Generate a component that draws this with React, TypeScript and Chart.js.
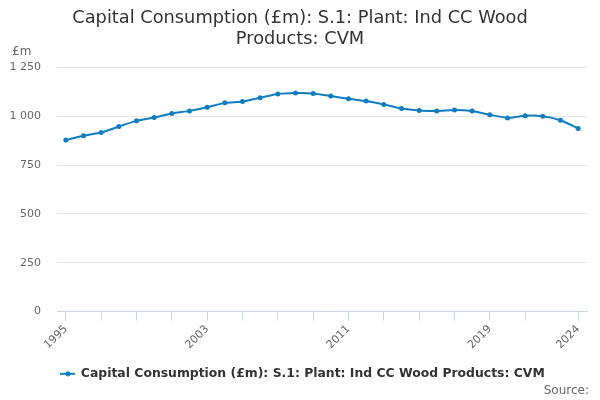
import React, { useEffect, useRef } from "react";
import { Chart, registerables } from "chart.js";

Chart.register(...registerables);

const years: string[] = [
  "1995","1996","1997","1998","1999","2000","2001","2002","2003","2004",
  "2005","2006","2007","2008","2009","2010","2011","2012","2013","2014",
  "2015","2016","2017","2018","2019","2020","2021","2022","2023","2024",
];
const values: number[] = [
  878, 900, 916, 947, 976, 993, 1014, 1027, 1046, 1068,
  1075, 1094, 1113, 1118, 1116, 1103, 1089, 1077, 1060, 1039,
  1029, 1026, 1032, 1026, 1007, 991, 1002, 1000, 979, 937,
];
const tickYears: string[] = [
  "1995","1997","1999","2001","2003","2005","2007","2009","2011","2013",
  "2015","2017","2019","2021","2024",
];
const labelYears: string[] = ["1995", "2003", "2011", "2019", "2024"];
const titleLines: string[] = ["Capital Consumption (£m): S.1: Plant: Ind CC Wood", "Products: CVM"];
const seriesName = "Capital Consumption (£m): S.1: Plant: Ind CC Wood Products: CVM";
const unitLabel = "£m";
const sourceLabel = "Source:";

const FONT = "'DejaVu Sans', sans-serif";
const BLUE = "#107dc2";

function legendMarker(): HTMLCanvasElement {
  const c = document.createElement("canvas");
  c.width = 20;
  c.height = 8;
  const ctx = c.getContext("2d")!;
  ctx.strokeStyle = BLUE;
  ctx.lineWidth = 2;
  ctx.beginPath();
  ctx.moveTo(4.9, 4);
  ctx.lineTo(20, 4);
  ctx.stroke();
  ctx.fillStyle = BLUE;
  ctx.beginPath();
  ctx.arc(12.9, 4, 2.5, 0, Math.PI * 2);
  ctx.fill();
  return c;
}

const extras = {
  id: "extras",
  afterDraw(chart: any) {
    const ctx = chart.ctx;
    ctx.save();
    ctx.font = `12px ${FONT}`;
    ctx.fillStyle = "#666666";
    ctx.textAlign = "left";
    ctx.textBaseline = "middle";
    ctx.fillText(unitLabel, 12, 52);
    ctx.textAlign = "right";
    ctx.fillText(sourceLabel, 589, 391);
    ctx.restore();
  },
};

export default function App() {
  const ref = useRef<HTMLCanvasElement>(null);
  useEffect(() => {
    document.body.style.margin = "0";
    const marker = legendMarker();
    const chart = new Chart(ref.current!, {
      type: "line",
      data: {
        labels: years,
        datasets: [
          {
            label: seriesName,
            data: values,
            borderColor: BLUE,
            backgroundColor: BLUE,
            borderWidth: 2,
            pointRadius: 2.5,
            pointHoverRadius: 3,
            pointBackgroundColor: BLUE,
            pointBorderWidth: 0,
            pointStyle: "circle",
            tension: 0.2,
          },
        ],
      },
      options: {
        animation: false,
        responsive: false,
        layout: { padding: { left: 0, right: 0, top: 6, bottom: 10 } },
        plugins: {
          title: {
            display: true,
            text: titleLines,
            color: "#333333",
            font: { family: FONT, size: 17.8, weight: "normal", lineHeight: 1.16 },
            padding: { top: 2, bottom: 18 },
          },
          legend: {
            display: true,
            position: "bottom",
            labels: {
              color: "#333333",
              font: { family: FONT, size: 12.4, weight: "bold" },
              usePointStyle: true,
              pointStyleWidth: 19.4,
              generateLabels() {
                return [
                  {
                    text: seriesName,
                    fillStyle: BLUE,
                    strokeStyle: BLUE,
                    lineWidth: 0,
                    pointStyle: marker,
                    hidden: false,
                    datasetIndex: 0,
                    fontColor: "#333333",
                  },
                ];
              },
              padding: 10,
            },
          },
          tooltip: { enabled: false },
        },
        scales: {
          x: {
            type: "category",
            offset: true,
            afterBuildTicks(scale: any) {
              scale.ticks = tickYears.map((t) => ({ value: years.indexOf(t) }));
            },
            afterFit(scale: any) {
              scale.height = 46;
            },
            ticks: {
              autoSkip: false,
              minRotation: 45,
              maxRotation: 45,
              color: "#666666",
              font: { family: FONT, size: 11 },
              padding: 2,
              callback(this: any, val: any) {
                const lab = years[val as number];
                return labelYears.includes(lab) ? lab : "";
              },
            },
            grid: {
              offset: false,
              drawOnChartArea: false,
              drawTicks: true,
              tickLength: 9,
              color: "#ccd6eb",
            },
            border: { display: true, color: "#ccd6eb", width: 1 },
          },
          y: {
            min: 0,
            max: 1250,
            afterFit(scale: any) {
              scale.width = 57;
            },
            ticks: {
              stepSize: 250,
              color: "#666666",
              font: { family: FONT, size: 11 },
              padding: 16,
              callback(val: any) {
                const n = Number(val);
                return n >= 1000
                  ? `${Math.floor(n / 1000)} ${String(n % 1000).padStart(3, "0")}`
                  : String(n);
              },
            },
            grid: { color: "#e6e6e6", drawTicks: false },
            border: { display: false },
          },
          yRight: {
            type: "linear",
            position: "right",
            display: true,
            min: 0,
            max: 1250,
            afterFit(scale: any) {
              scale.width = 13;
            },
            ticks: { display: false },
            grid: { drawOnChartArea: false, drawTicks: false },
            border: { display: false },
          },
        },
      },
      plugins: [extras],
    });
    return () => chart.destroy();
  }, []);
  return (
    <div style={{ position: "absolute", left: 0, top: 0, width: 600, height: 400 }}>
      <canvas ref={ref} width={600} height={400} style={{ width: 600, height: 400 }} />
    </div>
  );
}
